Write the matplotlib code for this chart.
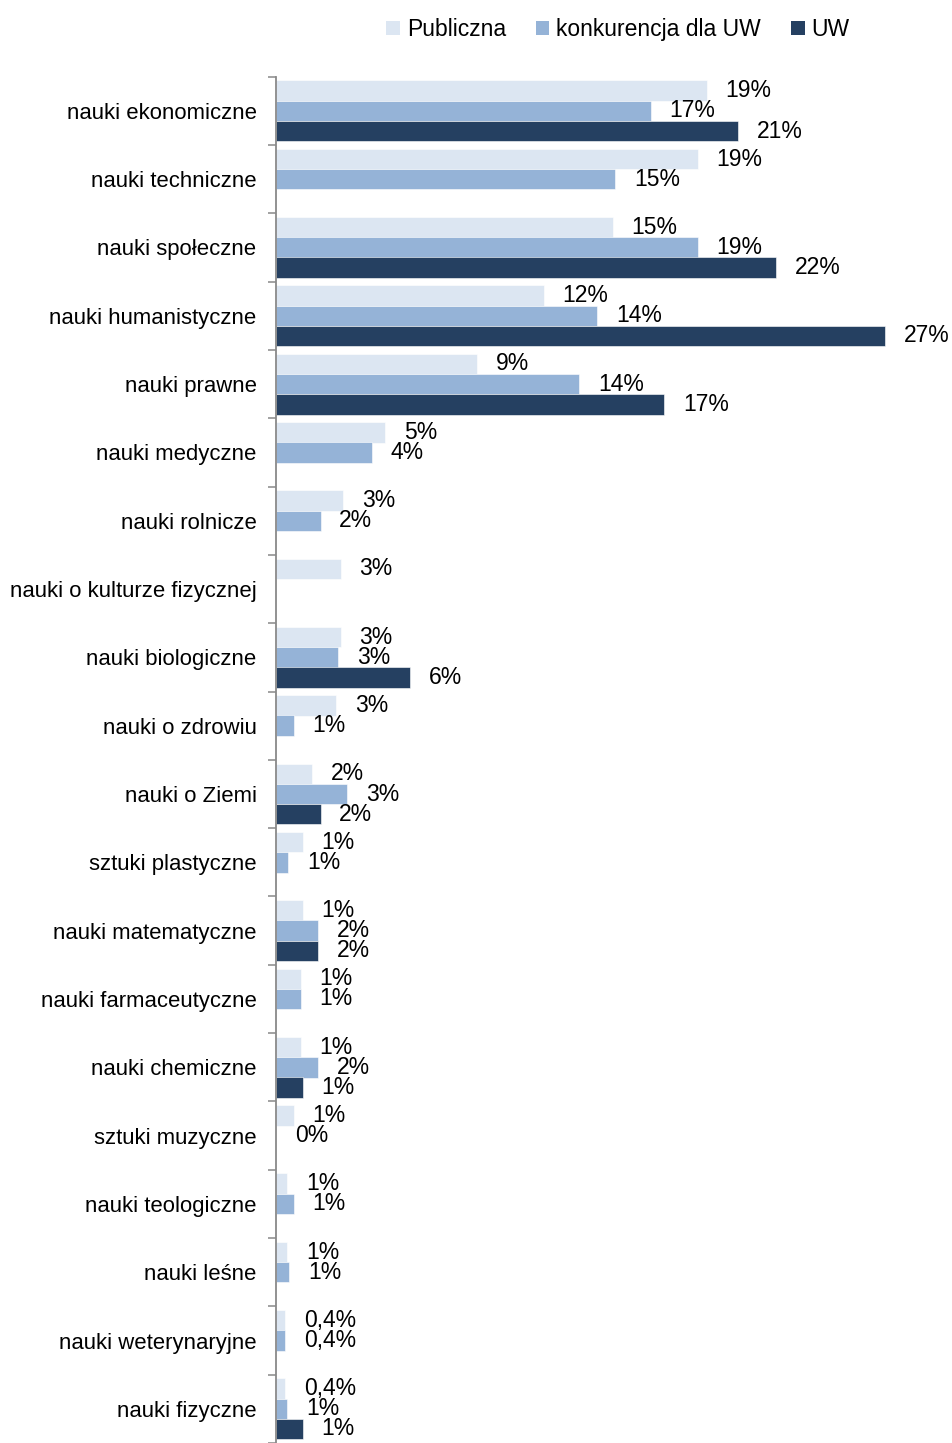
import numpy as np
import matplotlib
matplotlib.use("Agg")
import matplotlib.pyplot as plt
from matplotlib.patches import Patch

plt.rcParams['font.family'] = ['Liberation Sans', 'DejaVu Sans']

nan = np.nan
kategorie = ['nauki ekonomiczne', 'nauki techniczne', 'nauki społeczne', 'nauki humanistyczne',
             'nauki prawne', 'nauki medyczne', 'nauki rolnicze', 'nauki o kulturze fizycznej',
             'nauki biologiczne', 'nauki o zdrowiu', 'nauki o Ziemi', 'sztuki plastyczne',
             'nauki matematyczne', 'nauki farmaceutyczne', 'nauki chemiczne', 'sztuki muzyczne',
             'nauki teologiczne', 'nauki leśne', 'nauki weterynaryjne', 'nauki fizyczne']
publiczna = [19.3, 18.9, 15.1, 12.0, 9.0, 4.9, 3.0, 2.9, 2.9, 2.7,
             1.6, 1.2, 1.2, 1.1, 1.1, 0.8, 0.5, 0.5, 0.4, 0.4]
konkurencja = [16.8, 15.2, 18.9, 14.4, 13.6, 4.3, 2.0, nan, 2.8, 0.8,
               3.2, 0.55, 1.9, 1.1, 1.9, 0.0, 0.8, 0.6, 0.4, 0.5]
uw = [20.7, nan, 22.4, 27.3, 17.4, nan, nan, nan, 6.0, nan,
      2.0, nan, 1.9, nan, 1.2, nan, nan, nan, nan, 1.2]

serie = [('Publiczna', publiczna, '#DCE6F2'),
         ('konkurencja dla UW', konkurencja, '#95B3D7'),
         ('UW', uw, '#254061')]


def fmt(v):
    r = int(v + 0.5)
    if r == 0 and v > 0.2:
        return f"{v:.1f}%".replace('.', ',')
    return f"{r}%"


fig = plt.figure(figsize=(9.52, 14.43), dpi=100)
ax = fig.add_axes([276 / 952, 0.0, 1 - 276 / 952, 1 - 76.7 / 1443])

fs_kat = 15.9
fs_val = 16.5
h = 0.3
for k, (nazwa, vals, kolor) in enumerate(serie):
    for i, v in enumerate(vals):
        if np.isnan(v):
            continue
        y = i + 0.5 + (k - 1) * 0.295
        ax.barh(y, v, height=h, color=kolor, edgecolor='white', linewidth=0.4)
        ax.annotate(fmt(v), (v, y), xytext=(13.5, 0), textcoords='offset points',
                    ha='left', va='center', fontsize=fs_val, color='black')

ax.set_xlim(0, 30.3)
ax.set_ylim(20, 0)

ax.set_yticks(np.arange(0, 21))
ax.set_yticklabels([])
ax.set_yticks(np.arange(20) + 0.5, minor=True)
ax.set_yticklabels(kategorie, minor=True, fontsize=fs_kat)
ax.tick_params(axis='y', which='major', length=6, width=1.1, color='#898989', direction='out')
ax.tick_params(axis='y', which='minor', length=0, pad=14)
ax.set_xticks([])

for s in ['top', 'right', 'bottom']:
    ax.spines[s].set_visible(False)
ax.spines['left'].set_color('#898989')
ax.spines['left'].set_linewidth(1.3)

uchwyty = [Patch(facecolor=c, edgecolor='none', label=n) for n, _, c in serie]
fig.legend(handles=uchwyty, loc='center', bbox_to_anchor=(0.649, 0.9795), ncol=3,
           frameon=False, fontsize=fs_val, handlelength=0.6, handleheight=0.6,
           handletextpad=0.3, columnspacing=1.3)

fig.savefig('out.png', dpi=100)
